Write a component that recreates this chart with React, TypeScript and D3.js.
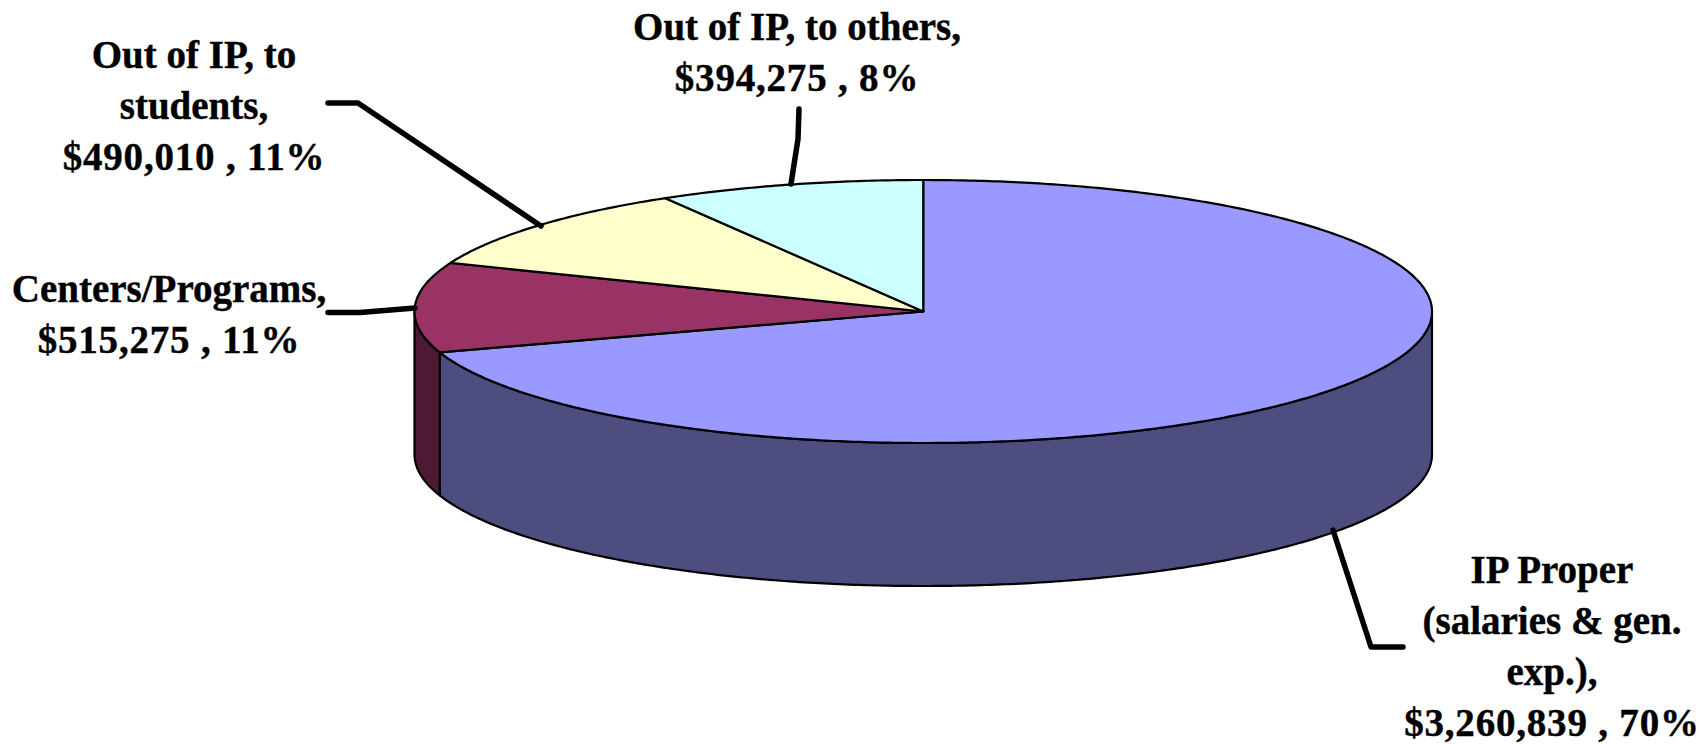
import * as d3 from "d3";

const categories = ["IP Proper", "Centers/Programs", "Out of IP, to students", "Out of IP, to others"];
const amounts = [3260839, 515275, 490010, 394275];
const percents = [70, 11, 11, 8];
const titleLines = [
  ["IP Proper", "(salaries & gen.", "exp.),"],
  ["Centers/Programs,"],
  ["Out of IP, to", "students,"],
  ["Out of IP, to others,"],
];
const topColors = ["#9999FF", "#993366", "#FFFFCC", "#CCFFFF"];
const sideColors = ["#4D4D80", "#4D1A33", "#80806A", "#6A8080"];

const WIDTH = 1702;
const HEIGHT = 744;
const FONT_SIZE = 39;
const LINE_H = 51;

// label anchors: centre x and first baseline, and the leader polyline for each slice
const labelPos = [
  { x: 1552, y: 583 },
  { x: 169, y: 302 },
  { x: 194, y: 68 },
  { x: 797, y: 40 },
];
const leaders: [number, number][][] = [
  [[1333, 530], [1371, 647], [1403, 647]],
  [[415, 308], [360, 312.5], [328, 312.5]],
  [[541, 226], [358, 103], [328, 103]],
  [[791, 184], [798, 139], [799, 109]],
];

// unit circle -> screen
const sx = d3.scaleLinear().domain([-1, 1]).range([414.5, 1432]);
const sy = d3.scaleLinear().domain([-1, 1]).range([180, 443]);
const DEPTH = 143;

const slices = d3.pie<number>().sort(null).value((d) => d)(amounts);

const pt = (t: number, dy = 0): [number, number] => [sx(Math.sin(t)), sy(-Math.cos(t)) + dy];
const line = d3.line();

function arcPoints(a: number, b: number, dy = 0) {
  const n = Math.max(2, Math.ceil((b - a) / 0.01));
  return d3.range(n + 1).map((i) => pt(a + ((b - a) * i) / n, dy));
}

function topPath(a: number, b: number) {
  return line([[sx(0), sy(0)], ...arcPoints(a, b)]) + "Z";
}

// only the part of the rim facing the viewer is drawn
function sidePath(a: number, b: number) {
  const from = Math.max(a, Math.PI / 2);
  const to = Math.min(b, (3 * Math.PI) / 2);
  if (to <= from) return null;
  return line([...arcPoints(from, to), ...arcPoints(from, to, DEPTH).reverse()]) + "Z";
}

export default function App() {
  return (
    <svg
      width={WIDTH}
      height={HEIGHT}
      style={{ position: "absolute", left: 0, top: 0, background: "#fff" }}
      role="img"
      aria-label="3D pie chart of spending"
    >
      <g stroke="#000" strokeWidth={2.2} strokeLinejoin="round">
        {slices.map((s, i) => {
          const d = sidePath(s.startAngle, s.endAngle);
          return d ? <path key={i} d={d} fill={sideColors[i]} /> : null;
        })}
        {slices.map((s, i) => (
          <path key={i} d={topPath(s.startAngle, s.endAngle)} fill={topColors[i]} />
        ))}
      </g>
      <g fill="none" stroke="#000" strokeWidth={5.5} strokeLinecap="round" strokeLinejoin="round">
        {leaders.map((l, i) => (
          <path key={categories[i]} d={line(l) ?? ""} />
        ))}
      </g>
      <g
        fontFamily="'Liberation Serif', serif"
        fontWeight="bold"
        fontSize={FONT_SIZE}
        textAnchor="middle"
        fill="#000"
        stroke="#000"
        strokeWidth={0.4}
      >
        {categories.map((c, i) => {
          const rows = titleLines[i];
          const { x, y } = labelPos[i];
          return (
            <text key={c} x={x} y={y}>
              {rows.map((r, j) => (
                <tspan key={j} x={x} dy={j === 0 ? 0 : LINE_H}>
                  {r}
                </tspan>
              ))}
              <tspan x={x} dy={LINE_H} letterSpacing={0.8}>
                {`${d3.format("$,")(amounts[i])} , ${percents[i]}%`}
              </tspan>
            </text>
          );
        })}
      </g>
    </svg>
  );
}
